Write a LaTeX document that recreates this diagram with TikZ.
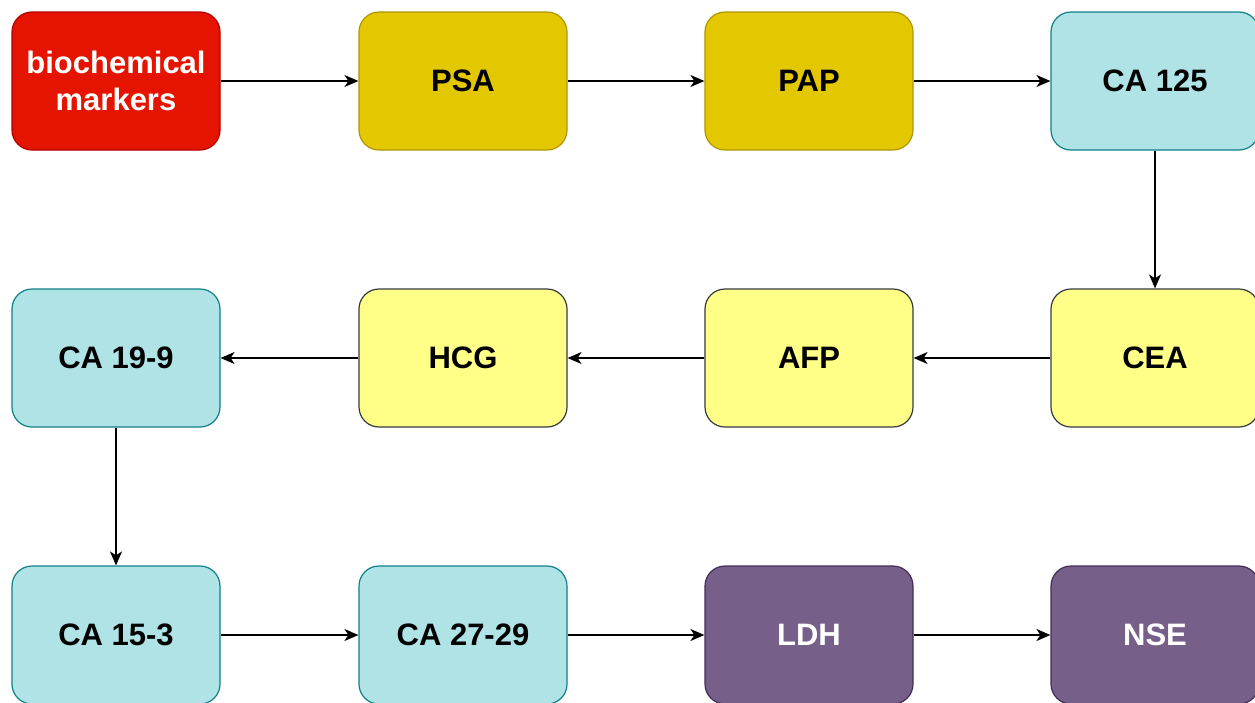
\documentclass[tikz,border=0pt]{standalone}
\usepackage{fontspec}
\setmainfont{Liberation Sans}
\usetikzlibrary{arrows.meta}
\definecolor{redF}{HTML}{E51400}\definecolor{redD}{HTML}{B20000}
\definecolor{goldF}{HTML}{E3C800}\definecolor{goldD}{HTML}{B09500}
\definecolor{blueF}{HTML}{B0E3E6}\definecolor{blueD}{HTML}{0E8088}
\definecolor{yelF}{HTML}{FFFF88}\definecolor{yelD}{HTML}{36393D}
\definecolor{purF}{HTML}{76608A}\definecolor{purD}{HTML}{432D57}
\tikzset{
  box/.style={rectangle, rounded corners=20pt, minimum width=208pt, minimum height=138pt,
    line width=1.2pt, font=\fontsize{31}{37}\selectfont\bfseries, align=center, inner sep=0pt},
  redbox/.style={box, fill=redF, draw=redD, text=white},
  goldbox/.style={box, fill=goldF, draw=goldD, text=black},
  bluebox/.style={box, fill=blueF, draw=blueD, text=black},
  yelbox/.style={box, fill=yelF, draw=yelD, text=black},
  purbox/.style={box, fill=purF, draw=purD, text=white},
  conn/.style={line width=1.4pt, -{Stealth[length=14pt,width=12pt,inset=4pt]}}
}
\begin{document}
\begin{tikzpicture}[x=1pt,y=-1pt]
\useasboundingbox (0,0) rectangle (1255,702);
\node[redbox] (bio) at (116,81) {biochemical\\markers};
\node[goldbox] (psa) at (463,81) {PSA};
\node[goldbox] (pap) at (809,81) {PAP};
\node[bluebox] (ca125) at (1155,81) {CA 125};
\node[yelbox] (cea) at (1155,358) {CEA};
\node[yelbox] (afp) at (809,358) {AFP};
\node[yelbox] (hcg) at (463,358) {HCG};
\node[bluebox] (ca199) at (116,358) {CA 19-9};
\node[bluebox] (ca153) at (116,635) {CA 15-3};
\node[bluebox] (ca2729) at (463,635) {CA 27-29};
\node[purbox] (ldh) at (809,635) {LDH};
\node[purbox] (nse) at (1155,635) {NSE};
\draw[conn] (bio) -- (psa);
\draw[conn] (psa) -- (pap);
\draw[conn] (pap) -- (ca125);
\draw[conn] (ca125) -- (cea);
\draw[conn] (cea) -- (afp);
\draw[conn] (afp) -- (hcg);
\draw[conn] (hcg) -- (ca199);
\draw[conn] (ca199) -- (ca153);
\draw[conn] (ca153) -- (ca2729);
\draw[conn] (ca2729) -- (ldh);
\draw[conn] (ldh) -- (nse);
\end{tikzpicture}
\end{document}
